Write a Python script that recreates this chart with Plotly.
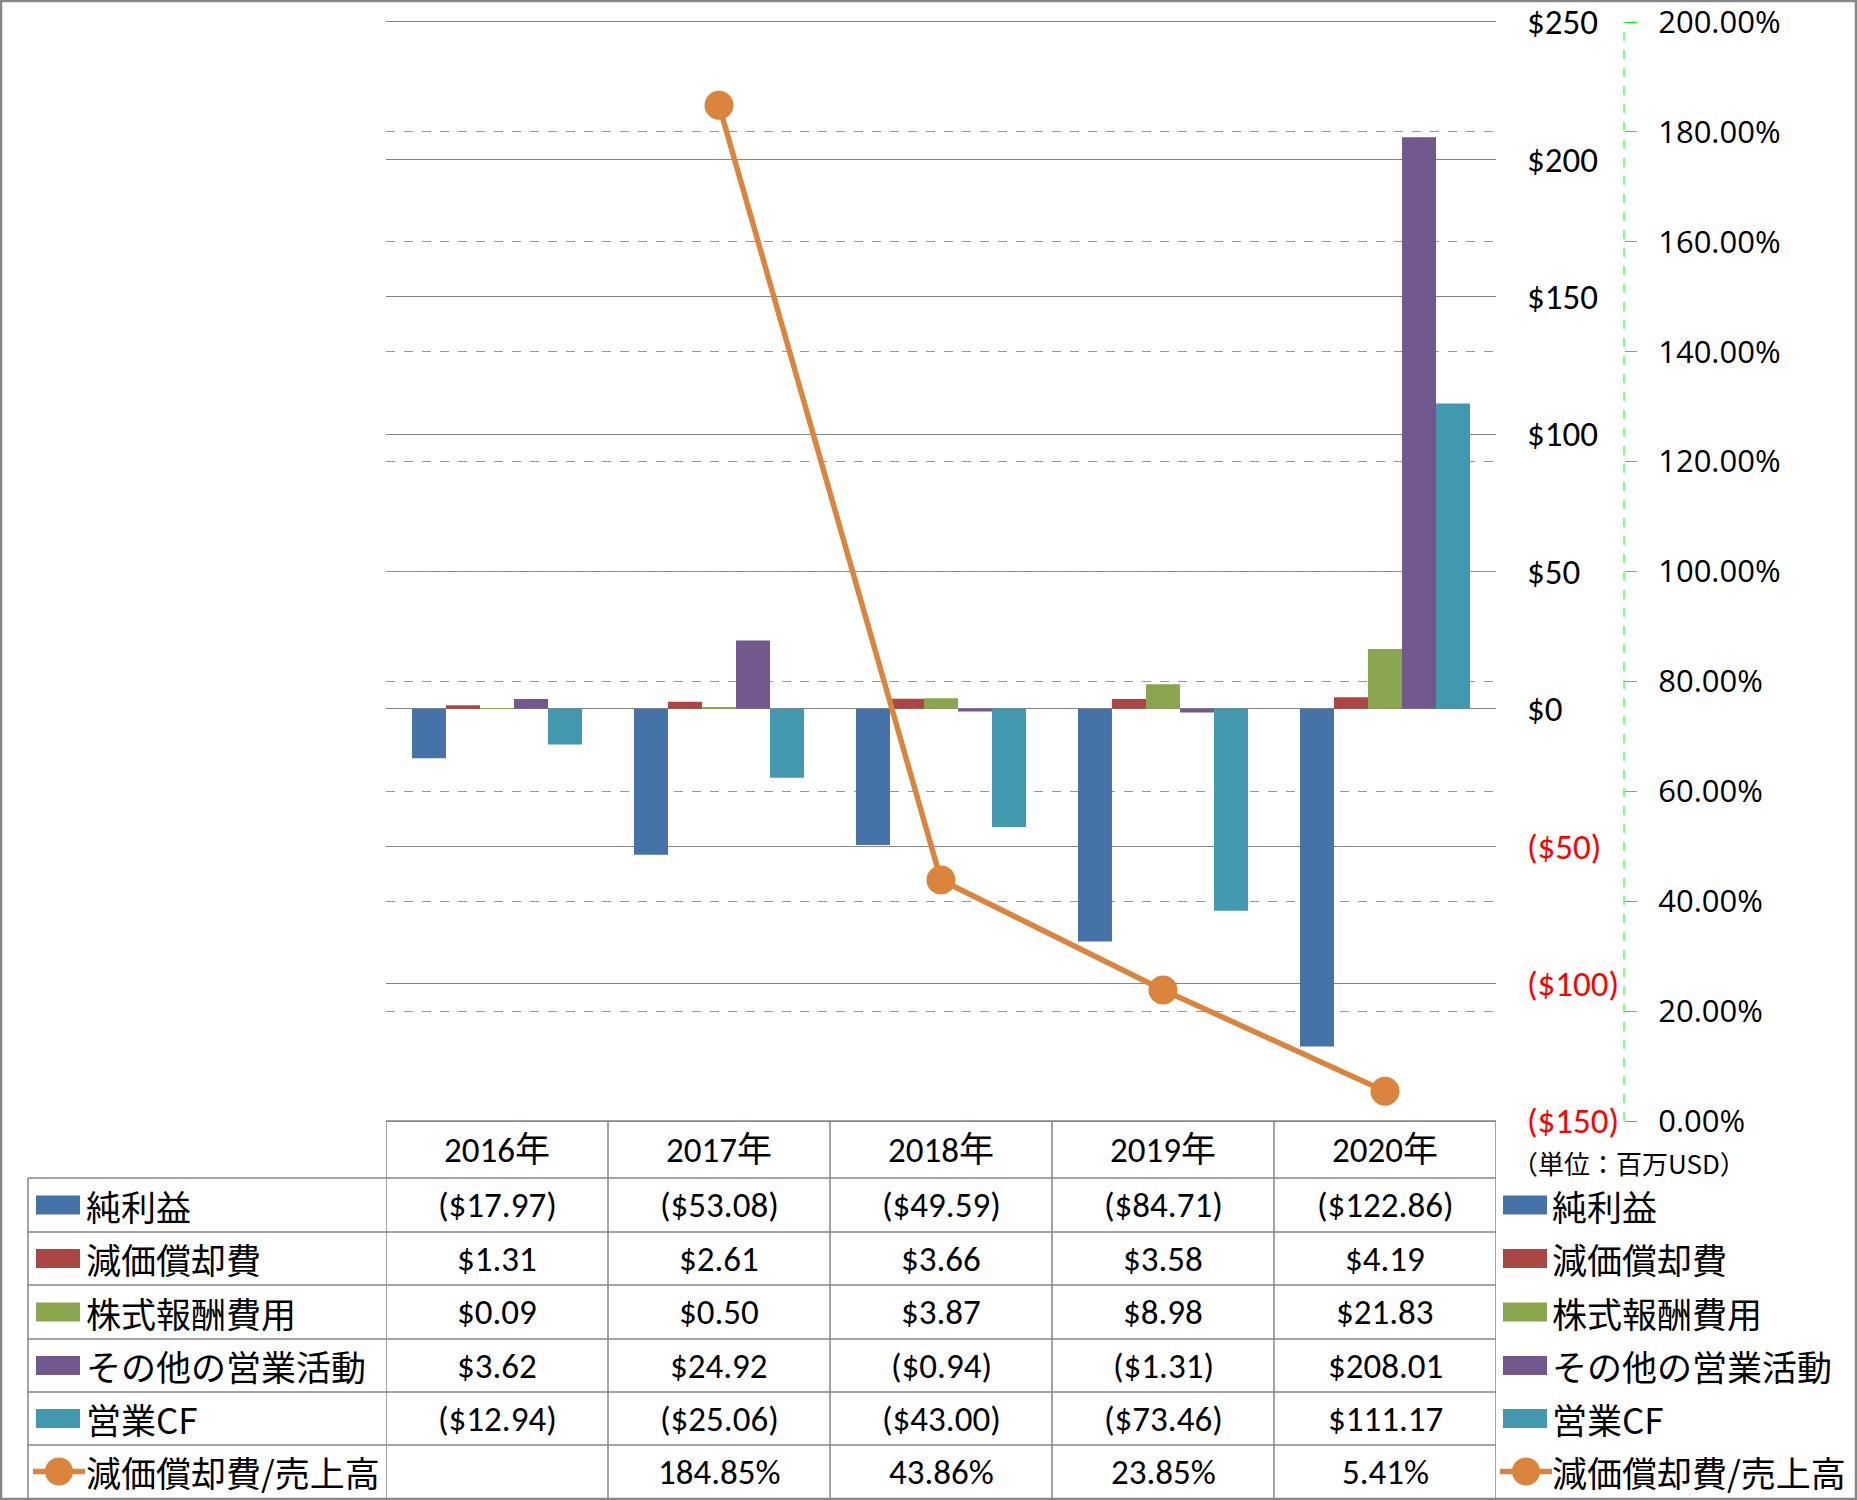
import plotly.graph_objects as go

# ---------------- data ----------------
categories = ["2016年", "2017年", "2018年", "2019年", "2020年"]
series_names = ["純利益", "減価償却費", "株式報酬費用", "その他の営業活動", "営業CF"]
net_income = [-17.97, -53.08, -49.59, -84.71, -122.86]
depreciation = [1.31, 2.61, 3.66, 3.58, 4.19]
stock_comp = [0.09, 0.50, 3.87, 8.98, 21.83]
other_ops = [3.62, 24.92, -0.94, -1.31, 208.01]
operating_cf = [-12.94, -25.06, -43.00, -73.46, 111.17]
ratio_name = "減価償却費/売上高"
dep_ratio = [None, 1.8485, 0.4386, 0.2385, 0.0541]
y_ticks = [-150, -100, -50, 0, 50, 100, 150, 200, 250]
y2_ticks = [0, 0.2, 0.4, 0.6, 0.8, 1.0, 1.2, 1.4, 1.6, 1.8, 2.0]
unit_label = "（単位：百万USD）"

bar_values = [net_income, depreciation, stock_comp, other_ops, operating_cf]
bar_colors = ["#4572A7", "#AA4643", "#89A54E", "#71588F", "#4198AF"]
line_color = "#DB843D"

# ---------------- layout geometry (pixels) ----------------
W, H = 1857, 1500
PL, PR, PT, PB = 386, 1496, 22, 1121
Y2_X = 1624
TBL_LEFT = 28
ROW_LINES = [1178, 1232, 1285, 1339, 1392, 1445, 1498]
HEADER_C = (PB + ROW_LINES[0]) / 2
GRID = "#868686"

NUM_FONT = "Liberation Sans Narrow, Carlito, Roboto Condensed, Roboto, Noto Sans CJK JP, sans-serif"
JP_FONT = "Noto Sans CJK JP, sans-serif"
TXT = 35


def px(x):
    return x / W


def py(y):
    return 1 - y / H


def money(v):
    return f"(${abs(v):,.2f})" if v < 0 else f"${v:,.2f}"


def money_tick(v):
    return f"<span style='color:#FF0000'>(${abs(v):,.0f})</span>" if v < 0 else f"${v:,.0f}"


fig = go.Figure()
for name, vals, col in zip(series_names, bar_values, bar_colors):
    fig.add_trace(go.Bar(x=list(range(len(categories))), y=vals, name=name,
                         marker=dict(color=col, line=dict(width=0)), yaxis="y"))

fig.add_trace(go.Scatter(x=list(range(len(categories))), y=dep_ratio, name=ratio_name,
                         mode="lines+markers", yaxis="y2",
                         line=dict(color=line_color, width=5.5),
                         marker=dict(color=line_color, size=29), connectgaps=False))

shapes = []
annotations = []

# secondary axis dashed line
shapes.append(dict(type="line", xref="paper", yref="paper", x0=px(Y2_X), x1=px(Y2_X),
                   y0=py(PB), y1=py(PT), line=dict(color="#00FF00", width=1, dash="dash")))

# table lines
shapes.append(dict(type="line", xref="paper", yref="paper", x0=px(PL), x1=px(PR),
                   y0=py(PB), y1=py(PB), line=dict(color=GRID, width=1.5)))
for yl in ROW_LINES[:-1]:
    shapes.append(dict(type="line", xref="paper", yref="paper", x0=px(TBL_LEFT), x1=px(PR),
                       y0=py(yl), y1=py(yl), line=dict(color=GRID, width=1.5)))
shapes.append(dict(type="line", xref="paper", yref="paper", x0=px(TBL_LEFT), x1=px(TBL_LEFT),
                   y0=py(ROW_LINES[0]), y1=py(ROW_LINES[-1]), line=dict(color=GRID, width=1.5)))
for i in range(len(categories) + 1):
    shapes.append(dict(type="line", xref="x", yref="paper", x0=i - 0.5, x1=i - 0.5,
                       y0=py(PB), y1=py(ROW_LINES[-1]), line=dict(color=GRID, width=1.5)))

# header text
for i, c in enumerate(categories):
    annotations.append(dict(x=i, y=py(HEADER_C), xref="x", yref="paper", text=c,
                            showarrow=False, xanchor="center", yanchor="middle",
                            font=dict(family=NUM_FONT, size=TXT, color="#000000")))

row_centers = [(ROW_LINES[k] + ROW_LINES[k + 1]) / 2 for k in range(6)]
row_names = series_names + [ratio_name]
row_cells = [[money(v) for v in vals] for vals in bar_values]
row_cells.append(["" if v is None else f"{v * 100:.2f}%" for v in dep_ratio])

for r, (yc, cells) in enumerate(zip(row_centers, row_cells)):
    for i, t in enumerate(cells):
        annotations.append(dict(x=i, y=py(yc), xref="x", yref="paper", text=t,
                                showarrow=False, xanchor="center", yanchor="middle",
                                font=dict(family=NUM_FONT, size=TXT, color="#000000")))


def legend_key(x_left, yc, r):
    if r < 5:
        shapes.append(dict(type="rect", xref="paper", yref="paper",
                           x0=px(x_left), x1=px(x_left + 44), y0=py(yc - 9.5), y1=py(yc + 9.5),
                           fillcolor=bar_colors[r], line=dict(width=0)))
    else:
        shapes.append(dict(type="line", xref="paper", yref="paper",
                           x0=px(x_left - 3), x1=px(x_left + 49), y0=py(yc), y1=py(yc),
                           line=dict(color=line_color, width=5.5)))
        shapes.append(dict(type="circle", xref="paper", yref="paper",
                           x0=px(x_left + 23 - 14), x1=px(x_left + 23 + 14),
                           y0=py(yc + 14), y1=py(yc - 14),
                           fillcolor=line_color, line=dict(width=0)))


for r, (yc, name) in enumerate(zip(row_centers, row_names)):
    legend_key(36, yc, r)
    annotations.append(dict(x=px(84), y=py(yc), xref="paper", yref="paper", text=name,
                            showarrow=False, xanchor="left", yanchor="middle",
                            font=dict(family=JP_FONT, size=TXT, color="#000000")))
    legend_key(1503, yc, r)
    annotations.append(dict(x=px(1550), y=py(yc), xref="paper", yref="paper", text=name,
                            showarrow=False, xanchor="left", yanchor="middle",
                            font=dict(family=JP_FONT, size=TXT, color="#000000")))

annotations.append(dict(x=px(1510), y=py(1162), xref="paper", yref="paper", text=unit_label,
                        showarrow=False, xanchor="left", yanchor="middle",
                        font=dict(family=JP_FONT, size=26, color="#000000")))

# outer border
shapes.append(dict(type="rect", xref="paper", yref="paper", x0=px(1), x1=px(W - 1),
                   y0=py(H - 1), y1=py(1), line=dict(color=GRID, width=2.5)))

fig.update_layout(
    width=W, height=H,
    margin=dict(l=0, r=0, t=0, b=0, autoexpand=False),
    paper_bgcolor="white", plot_bgcolor="white",
    showlegend=False,
    barmode="group", bargap=0.234, bargroupgap=0,
    xaxis=dict(domain=[px(PL), px(PR)], range=[-0.5, len(categories) - 0.5], automargin=False,
               showgrid=False, showticklabels=False, ticks="", zeroline=False,
               showline=True, mirror=True, linecolor=GRID, linewidth=1.3),
    yaxis=dict(domain=[py(PB), py(PT)], range=[-150, 250], side="right", automargin=False,
               tickvals=y_ticks, ticktext=[money_tick(v) for v in y_ticks],
               showgrid=True, gridcolor=GRID, gridwidth=1.3, zeroline=False,
               ticks="", ticklabelstandoff=30, ticklabeloverflow="allow",
               tickfont=dict(family=NUM_FONT, size=TXT, color="#000000")),
    yaxis2=dict(overlaying="y", side="right", anchor="free", position=px(Y2_X), automargin=False,
                range=[0, 2.0], tickvals=y2_ticks, tickformat=".2%",
                showgrid=True, gridcolor="#00FF00", gridwidth=1, griddash="dash",
                zeroline=False, showline=False,
                ticks="outside", ticklen=12, tickcolor="#00FF00", tickwidth=1,
                ticklabelstandoff=15, ticklabeloverflow="allow",
                tickfont=dict(family="Open Sans, Noto Sans, sans-serif", size=31, color="#000000")),
    shapes=shapes, annotations=annotations,
)

fig.write_html("out.html")
